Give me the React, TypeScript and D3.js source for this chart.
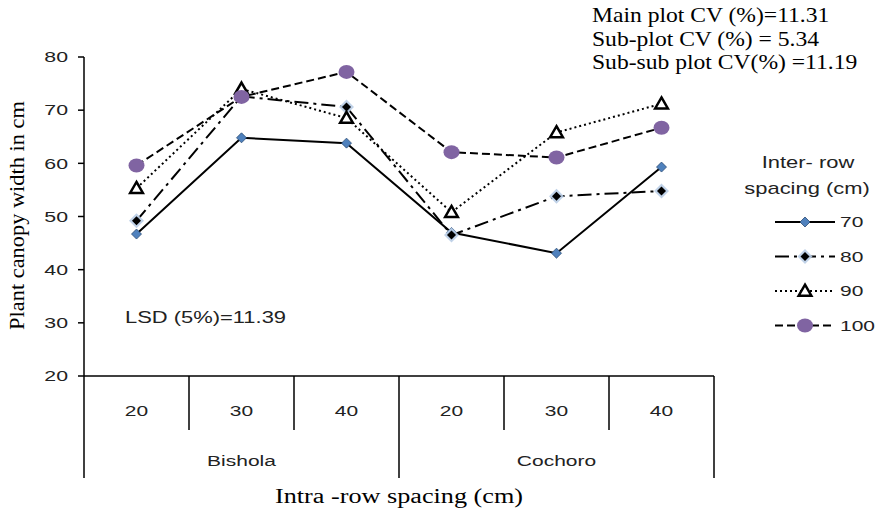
import React, { useEffect, useRef } from 'react';
import * as d3 from 'd3';

const locations = ['Bishola', 'Cochoro'];
const intraRow = ['20', '30', '40'];
const seriesNames = ['70', '80', '90', '100'];
const s70 = [46.7, 64.8, 63.8, 47.0, 43.1, 59.3];
const s80 = [49.2, 72.6, 70.6, 46.5, 53.8, 54.8];
const s90 = [55.3, 74.0, 68.5, 50.8, 65.8, 71.2];
const s100 = [59.6, 72.5, 77.2, 62.1, 61.1, 66.7];
const yTicks = [20, 30, 40, 50, 60, 70, 80];
const cvNotes = ['Main plot CV (%)=11.31', 'Sub-plot CV (%) = 5.34', 'Sub-sub plot CV(%) =11.19'];

const SANS = '"Liberation Sans", Arial, sans-serif';
const SERIF = '"Liberation Serif", "Times New Roman", serif';

// the source image is stretched sideways, so text gets a horizontal scale
function addText(g: any, str: string | number, x: number, y: number, opts: any) {
  const t = g.append('text')
    .attr('transform', `translate(${x},${y}) scale(${opts.sx || 1},1)`)
    .attr('text-anchor', opts.anchor || 'start')
    .attr('font-family', opts.family || SANS)
    .attr('font-size', opts.size || 15)
    .attr('fill', opts.fill || '#222')
    .text(str);
  if (opts.dy) t.attr('dy', opts.dy);
  return t;
}

const diamond = (r: number) => `M0,${-r}L${r},0L0,${r}L${-r},0Z`;

export default function App() {
  const svgRef = useRef<SVGSVGElement>(null);

  useEffect(() => {
    if (!svgRef.current) return;
    const svg = d3.select(svgRef.current);
    svg.selectAll('*').remove();

    const width = 879;
    const height = 513;
    svg.attr('width', width).attr('height', height);

    const left = 84, right = 714, top = 57, bottom = 376;

    const cats = locations.flatMap(l => intraRow.map(r => `${l}-${r}`));
    const x = d3.scalePoint<string>().domain(cats).range([left, right]).padding(0.5);
    const step = x.step();
    const y = d3.scaleLinear().domain([20, 80]).range([bottom, top]);

    // y axis
    const yAxis = svg.append('g');
    yAxis.append('line')
      .attr('x1', left).attr('x2', left).attr('y1', top).attr('y2', bottom)
      .attr('stroke', '#000').attr('stroke-width', 1.5);
    yTicks.forEach(t => {
      yAxis.append('line')
        .attr('x1', left - 6).attr('x2', left).attr('y1', y(t)).attr('y2', y(t))
        .attr('stroke', '#000').attr('stroke-width', 1.5);
      addText(yAxis, t, left - 16, y(t), { anchor: 'end', size: 15, sx: 1.42, dy: '0.35em' });
    });

    svg.append('text')
      .attr('transform', `translate(24,${(top + bottom) / 2 - 1}) rotate(-90) scale(1.12,1)`)
      .attr('text-anchor', 'middle')
      .attr('font-family', SERIF).attr('font-size', 20)
      .text('Plant canopy width  in cm');

    // x axis (two-level categories)
    const xAxis = svg.append('g');
    xAxis.append('line')
      .attr('x1', left).attr('x2', right).attr('y1', bottom).attr('y2', bottom)
      .attr('stroke', '#000').attr('stroke-width', 1.5);
    for (let i = 0; i <= cats.length; i++) {
      const bx = left + i * step;
      const long = i % intraRow.length === 0;
      xAxis.append('line')
        .attr('x1', bx).attr('x2', bx).attr('y1', bottom).attr('y2', long ? 478 : 430)
        .attr('stroke', '#000').attr('stroke-width', 1.5);
    }
    cats.forEach((c, i) => {
      addText(xAxis, intraRow[i % intraRow.length], x(c)!, 416, { anchor: 'middle', size: 15, sx: 1.4 });
    });
    locations.forEach(l => {
      const mid = (x(`${l}-${intraRow[0]}`)! + x(`${l}-${intraRow[intraRow.length - 1]}`)!) / 2;
      addText(xAxis, l, mid, 466, { anchor: 'middle', size: 15, sx: 1.4 });
    });

    addText(svg, 'Intra -row spacing (cm)', (left + right) / 2, 503,
      { anchor: 'middle', size: 20, family: SERIF, sx: 1.31, fill: '#000' });

    // series
    const allData = [s70, s80, s90, s100];
    const dashes = ['none', '14,5,3,5', '2,3', '8,4'];

    const drawMarker = (g: any, k: number, cx: number, cy: number) => {
      if (k === 0) {
        g.append('path')
          .attr('d', diamond(5))
          .attr('transform', `translate(${cx},${cy})`)
          .attr('fill', '#4f81bd').attr('stroke', '#2c4d75').attr('stroke-width', 0.8);
      } else if (k === 1) {
        g.append('path')
          .attr('d', diamond(7.5))
          .attr('transform', `translate(${cx},${cy})`)
          .attr('fill', '#b9cde5').attr('opacity', 0.9);
        g.append('path')
          .attr('d', diamond(4.5))
          .attr('transform', `translate(${cx},${cy})`)
          .attr('fill', '#000');
      } else if (k === 2) {
        g.append('path')
          .attr('d', d3.symbol().type(d3.symbolTriangle).size(70)())
          .attr('transform', `translate(${cx},${cy + 1})`)
          .attr('fill', '#fff').attr('stroke', '#000').attr('stroke-width', 2.5);
      } else {
        g.append('ellipse')
          .attr('cx', cx).attr('cy', cy).attr('rx', 8).attr('ry', 7)
          .attr('fill', '#8064a2');
      }
    };

    const line = d3.line<number>()
      .x((_, i) => x(cats[i])!)
      .y(d => y(d));

    allData.forEach((vals, k) => {
      const g = svg.append('g');
      g.append('path')
        .datum(vals)
        .attr('fill', 'none')
        .attr('stroke', '#000')
        .attr('stroke-width', 2)
        .attr('stroke-dasharray', dashes[k])
        .attr('d', line);
      vals.forEach((v, i) => drawMarker(g, k, x(cats[i])!, y(v)));
    });

    // LSD note
    addText(svg, 'LSD (5%)=11.39', 125, 323, { size: 17, sx: 1.29 });

    // CV notes
    cvNotes.forEach((t, i) => {
      addText(svg, t, 592, 22 + i * 23.5, { size: 20, family: SERIF, sx: 1.18, fill: '#000' });
    });

    // legend
    const lg = svg.append('g');
    addText(lg, 'Inter- row', 808, 168, { anchor: 'middle', size: 16, sx: 1.37 });
    addText(lg, 'spacing (cm)', 807, 194, { anchor: 'middle', size: 16, sx: 1.37 });
    seriesNames.forEach((name, k) => {
      const ly = 222 + k * 34.5;
      lg.append('line')
        .attr('x1', 775).attr('x2', 835).attr('y1', ly).attr('y2', ly)
        .attr('stroke', '#000').attr('stroke-width', 2)
        .attr('stroke-dasharray', dashes[k]);
      drawMarker(lg, k, 805, ly);
      addText(lg, name, 840, ly, { size: 15, sx: 1.4, dy: '0.35em' });
    });
  }, []);

  return (
    <div style={{ position: 'absolute', left: 0, top: 0, background: '#fff' }}>
      <svg ref={svgRef} style={{ display: 'block' }} />
    </div>
  );
}
